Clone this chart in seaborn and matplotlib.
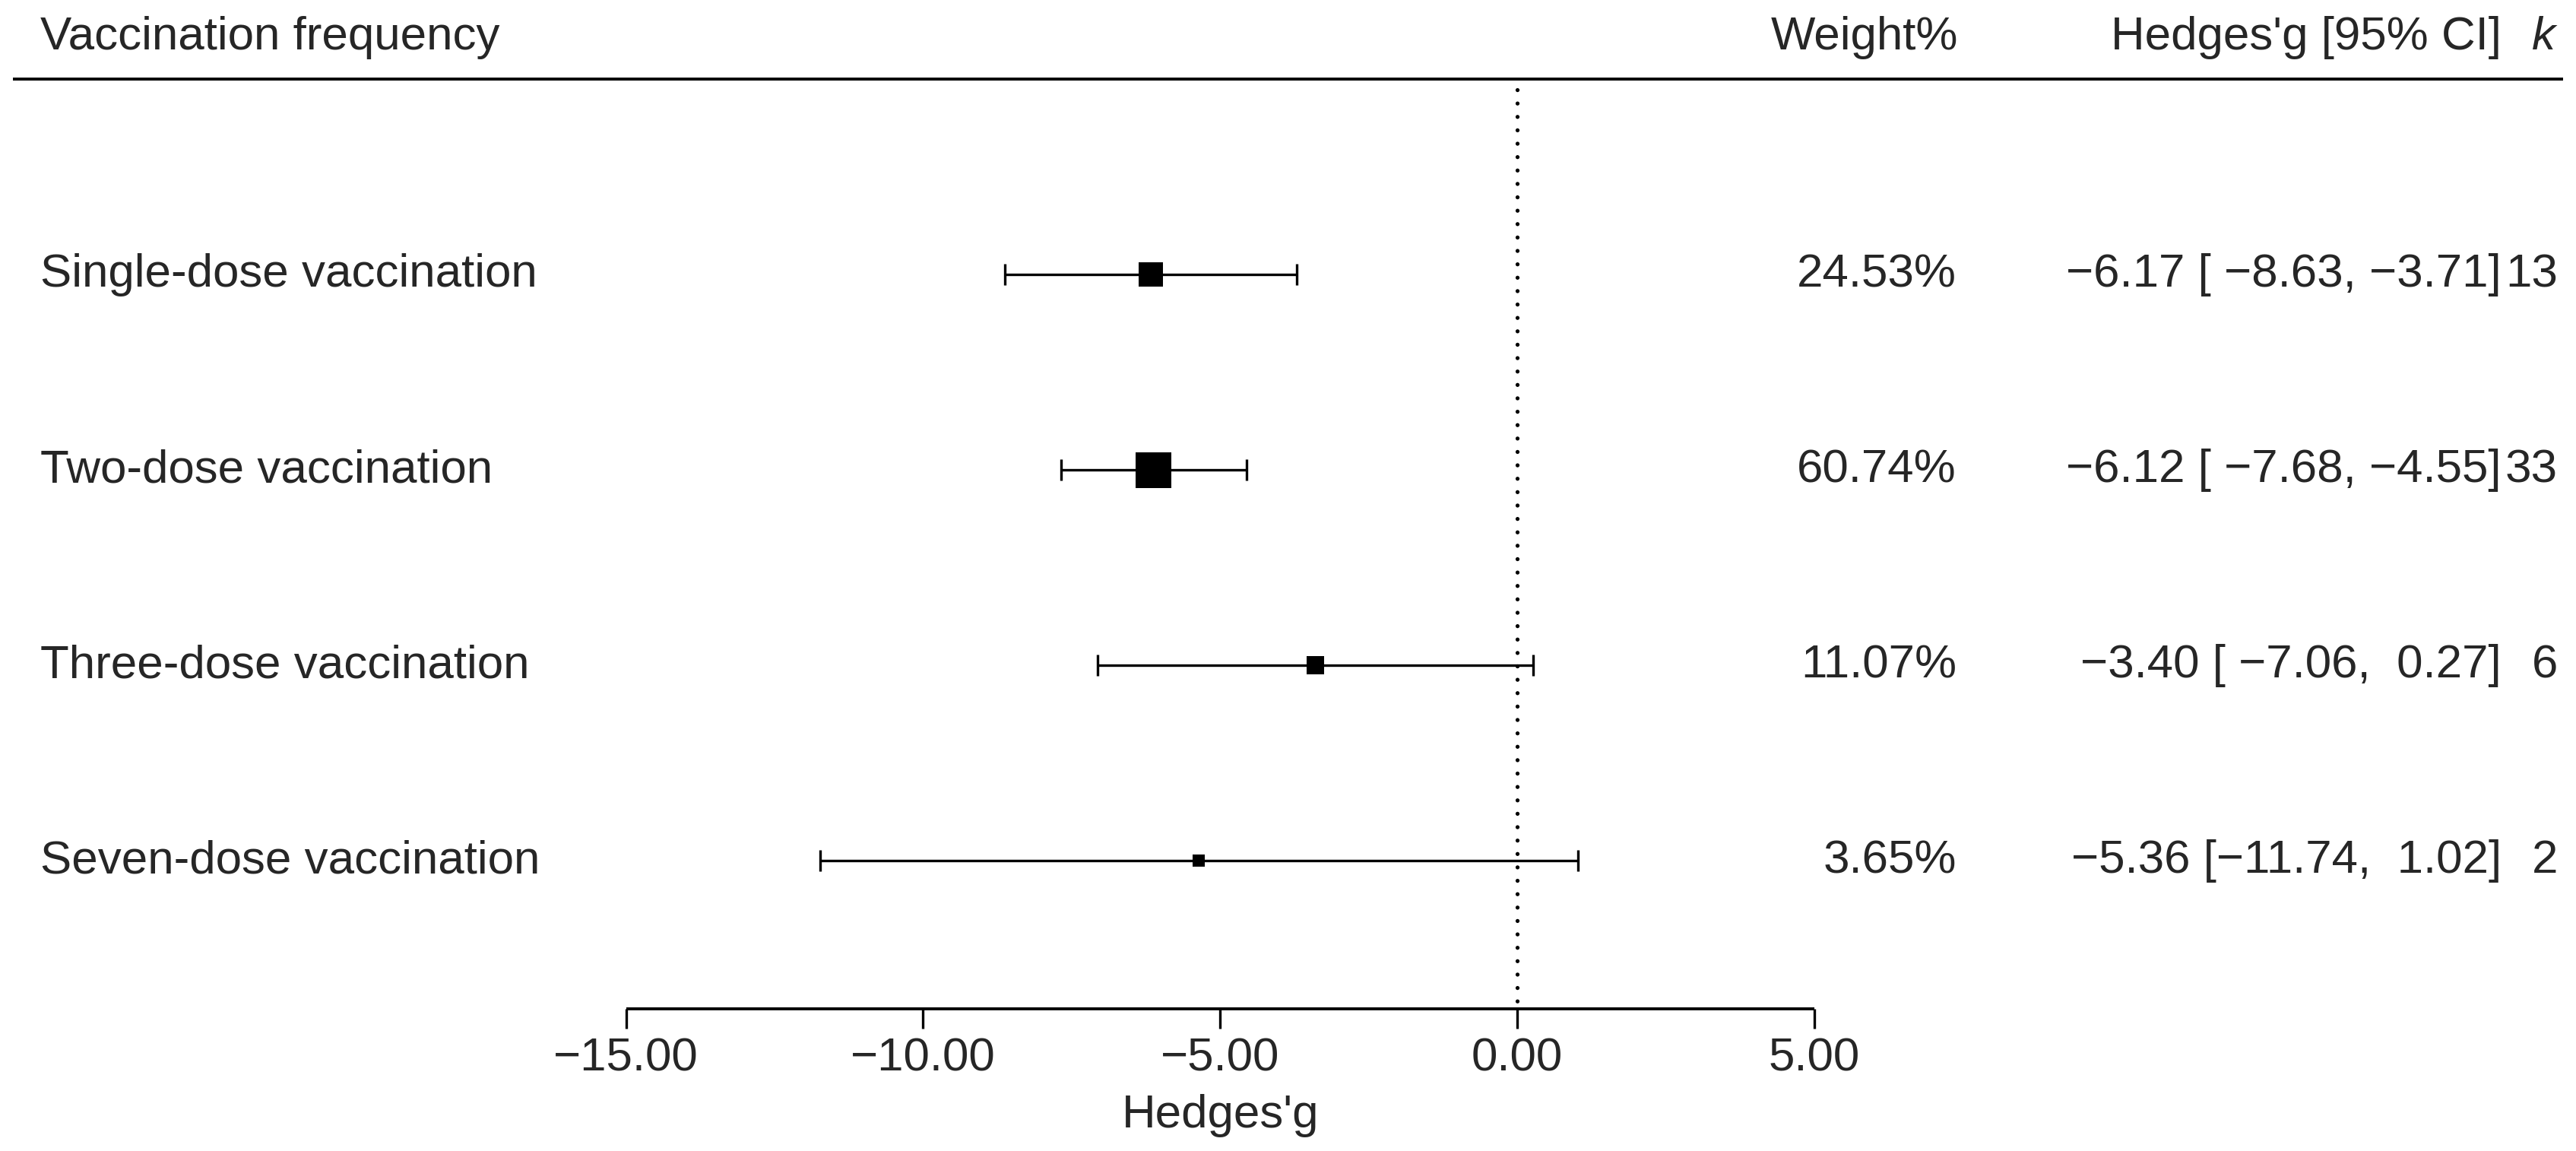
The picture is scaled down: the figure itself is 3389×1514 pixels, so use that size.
import numpy as np
import pandas as pd
import matplotlib
matplotlib.use("Agg")
import matplotlib.pyplot as plt
import seaborn as sns

# ---- data ----
labels = ["Single-dose vaccination", "Two-dose vaccination",
          "Three-dose vaccination", "Seven-dose vaccination"]
estimates = [-6.17, -6.12, -3.40, -5.36]
ci_lower = [-8.63, -7.68, -7.06, -11.74]
ci_upper = [-3.71, -4.55, 0.27, 1.02]
weights = [24.53, 60.74, 11.07, 3.65]
k_studies = [13, 33, 6, 2]
tick_values = [-15, -10, -5, 0, 5]
header_left = "Vaccination frequency"
header_weight = "Weight%"
header_ci = "Hedges'g [95% CI]"
header_k = "k"
x_label = "Hedges'g"

sns.set_style("white")
plt.rcParams["font.family"] = ["Liberation Sans", "DejaVu Sans"]

DPI = 100
W, H = 3389, 1514
fig = plt.figure(figsize=(W / DPI, H / DPI), dpi=DPI)
ax = fig.add_axes([0, 0, 1, 1])

PX_PER_UNIT = 78.15
X0 = 1996.0
ax.set_xlim(-X0 / PX_PER_UNIT, (W - X0) / PX_PER_UNIT)
ROW_PX = 257.0
ax.set_ylim(1 - (H - 1132) / ROW_PX, 1 + 1132 / ROW_PX)
ax.set_axis_off()

def px2x(px):
    return (px - X0) / PX_PER_UNIT

n = len(labels)
ypos = np.arange(n, 0, -1).astype(float)

df = pd.DataFrame({"label": labels, "est": estimates, "lo": ci_lower,
                   "hi": ci_upper, "w": weights, "k": k_studies, "y": ypos})

FS = 44.6
LW = 2.4
AXIS_Y = 0.2412

# zero reference line (dotted), drawn top-down so the first dot sits at the top
ax.plot([0, 0], [4.946, AXIS_Y], color="black", lw=3.8,
        linestyle=(0, (0.01, 3.33)), dash_capstyle="round", zorder=1)

# header line
ax.plot([px2x(17), px2x(3372)], [5.0, 5.0], color="black", lw=2.8,
        solid_capstyle="butt")

# confidence intervals
est = df["est"].to_numpy()
ax.errorbar(est, df["y"], xerr=[est - df["lo"].to_numpy(), df["hi"].to_numpy() - est],
            fmt="none", ecolor="black", elinewidth=LW, capsize=10.3,
            capthick=LW, zorder=2)

# squares sized by weight
sw = np.sqrt(df["w"].to_numpy())
side_px = 16 + 31 * (sw - sw.min()) / (sw.max() - sw.min())
side_pt = side_px * 72.0 / DPI
sns.scatterplot(data=df, x="est", y="y", marker="s", color="black",
                s=side_pt ** 2, linewidth=0, legend=False, ax=ax, zorder=3)

# row texts
for _, r in df.iterrows():
    yb = r["y"] - 0.0642
    ax.text(px2x(53), yb, r["label"], ha="left", va="baseline", fontsize=FS)
    ax.text(px2x(2574), yb, f"{r['w']:.2f}%", ha="right", va="baseline", fontsize=FS)
    lo_s = f"{r['lo']:.2f}".replace("-", "\u2212")
    hi_s = f"{r['hi']:.2f}".replace("-", "\u2212")
    est_s = f"{r['est']:.2f}".replace("-", "\u2212")
    lo_s = " " * (6 - len(f"{r['lo']:.2f}")) + lo_s
    hi_s = " " * (5 - len(f"{r['hi']:.2f}")) + hi_s
    ci_text = f"{est_s} [{lo_s}, {hi_s}]"
    ax.text(px2x(3291), yb, ci_text, ha="right", va="baseline", fontsize=FS)
    ax.text(px2x(3365), yb, str(int(r["k"])), ha="right", va="baseline", fontsize=FS)

# header texts
yh = 5.152
ax.text(px2x(53), yh, header_left, ha="left", va="baseline", fontsize=FS)
ax.text(px2x(2576), yh, header_weight, ha="right", va="baseline", fontsize=FS)
ax.text(px2x(3291), yh, header_ci, ha="right", va="baseline", fontsize=FS)
ax.text(px2x(3362), yh, header_k, ha="right", va="baseline", fontsize=FS, style="italic")

# x axis drawn in data coords
ax.plot([min(tick_values), max(tick_values)], [AXIS_Y, AXIS_Y], color="black",
        lw=2.8, solid_capstyle="butt")
for t in tick_values:
    ax.plot([t, t], [AXIS_Y, 0.140], color="black", lw=LW, solid_capstyle="butt")
    ax.text(t, -0.0778, f"{t:.2f}".replace("-", "\u2212"), ha="center",
            va="baseline", fontsize=FS)
ax.text(np.mean([min(tick_values), max(tick_values)]), -0.3658, x_label,
        ha="center", va="baseline", fontsize=FS)

fig.savefig("out.png", dpi=DPI, facecolor="white")
